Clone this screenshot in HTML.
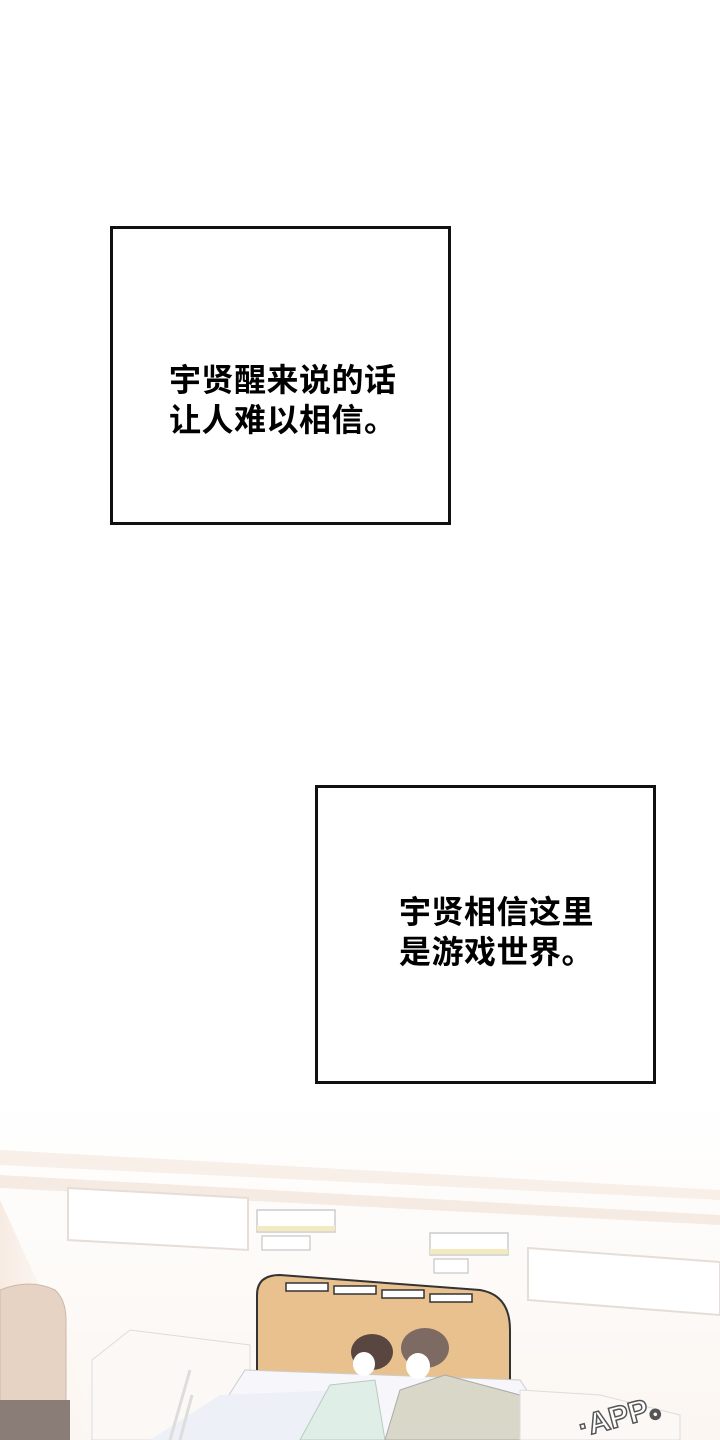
<!DOCTYPE html>
<html><head><meta charset="utf-8">
<style>
html,body{margin:0;padding:0;background:#fff;}
body{width:720px;height:1440px;position:relative;overflow:hidden;font-family:"Liberation Sans","Noto Sans CJK SC",sans-serif;}
.box{position:absolute;border:3px solid #111;box-sizing:border-box;background:#fff;}
.t{position:absolute;font-size:32px;line-height:40px;color:#000;white-space:nowrap;letter-spacing:0.5px;font-weight:600;}
svg{position:absolute;left:0;top:0;}
</style></head><body>
<div class="box" style="left:110px;top:226px;width:341px;height:299px;"></div>
<div class="t" style="left:169px;top:360px;">宇贤醒来说的话<br>让人难以相信。</div>
<div class="box" style="left:315px;top:785px;width:341px;height:299px;"></div>
<div class="t" style="left:399px;top:892px;">宇贤相信这里<br>是游戏世界。</div>

<svg width="720" height="1440" viewBox="0 0 720 1440">
<defs>
<linearGradient id="wall" x1="0" y1="0" x2="0" y2="1">
<stop offset="0" stop-color="#fff"/><stop offset="1" stop-color="#fbf6f1"/>
</linearGradient>
<linearGradient id="light" x1="0" y1="0" x2="1" y2="0">
<stop offset="0" stop-color="#f3e4d8"/><stop offset="1" stop-color="#fff" stop-opacity="0"/>
</linearGradient>
</defs>
<rect x="0" y="1095" width="720" height="345" fill="url(#wall)"/>
<polygon points="0,1150 720,1190 720,1200 0,1165" fill="#f7efe8"/>
<polygon points="0,1175 720,1215 720,1225 0,1188" fill="#f5ebe2"/>
<polygon points="0,1200 110,1440 0,1440" fill="url(#light)" opacity="0.7"/>
<polygon points="68,1188 248,1198 248,1250 68,1240" fill="#fff" stroke="#e6ddd6" stroke-width="2"/>
<polygon points="528,1248 720,1262 720,1315 528,1300" fill="#fff" stroke="#e6ddd6" stroke-width="2"/>
<rect x="257" y="1210" width="78" height="22" fill="#fff" stroke="#ccc" stroke-width="1.5"/>
<rect x="257" y="1226" width="78" height="5" fill="#f4eac0"/>
<rect x="262" y="1236" width="48" height="14" fill="#fff" stroke="#bbb"/>
<rect x="430" y="1233" width="78" height="22" fill="#fff" stroke="#ccc" stroke-width="1.5"/>
<rect x="430" y="1249" width="78" height="5" fill="#f4eac0"/>
<rect x="434" y="1259" width="34" height="14" fill="#fff" stroke="#bbb"/>
<path d="M0,1290 Q30,1278 55,1290 Q66,1300 66,1320 L66,1440 L0,1440 Z" fill="#e6d3c4" stroke="#cdb8a8"/>
<rect x="0" y="1400" width="70" height="40" fill="#8a7d77"/>
<polygon points="92,1360 130,1330 250,1345 250,1440 92,1440" fill="#fbf8f6" stroke="#ddd"/>
<path d="M257,1440 L257,1295 Q257,1275 280,1275 L480,1290 Q510,1295 510,1330 L510,1440 Z" fill="#e9c18e" stroke="#333" stroke-width="2"/>
<rect x="286" y="1283" width="42" height="8" fill="#fff" stroke="#333" stroke-width="1.5"/>
<rect x="334" y="1286" width="42" height="8" fill="#fff" stroke="#333" stroke-width="1.5"/>
<rect x="382" y="1290" width="42" height="8" fill="#fff" stroke="#333" stroke-width="1.5"/>
<rect x="430" y="1294" width="42" height="8" fill="#fff" stroke="#333" stroke-width="1.5"/>
<polygon points="200,1440 245,1370 520,1380 560,1440" fill="#f7f7fb" stroke="#ccc"/>
<polygon points="150,1440 220,1395 340,1390 360,1440" fill="#eef0f7"/>
<path d="M170,1440 L190,1370 M180,1440 L192,1395" stroke="#ddd" stroke-width="3" fill="none"/>
<ellipse cx="372" cy="1352" rx="21" ry="18" fill="#5a4640"/>
<ellipse cx="364" cy="1364" rx="11" ry="12" fill="#fff"/>
<polygon points="300,1440 330,1385 375,1380 385,1440" fill="#dfeee6" stroke="#b8cbbf"/>
<ellipse cx="425" cy="1348" rx="24" ry="20" fill="#7d6a62"/>
<ellipse cx="418" cy="1366" rx="12" ry="13" fill="#fff"/>
<polygon points="385,1440 400,1390 445,1375 520,1395 530,1440" fill="#d9d8c8" stroke="#aaa"/>
<polygon points="520,1390 600,1395 680,1415 680,1440 520,1440" fill="#fbf8f6" stroke="#ddd"/>
<text x="580" y="1432" font-family="Liberation Sans" font-size="30" font-weight="bold" fill="#fff" stroke="#555" stroke-width="1.5" transform="rotate(-15 600 1430)">·APP。</text>
</svg>
</body></html>
